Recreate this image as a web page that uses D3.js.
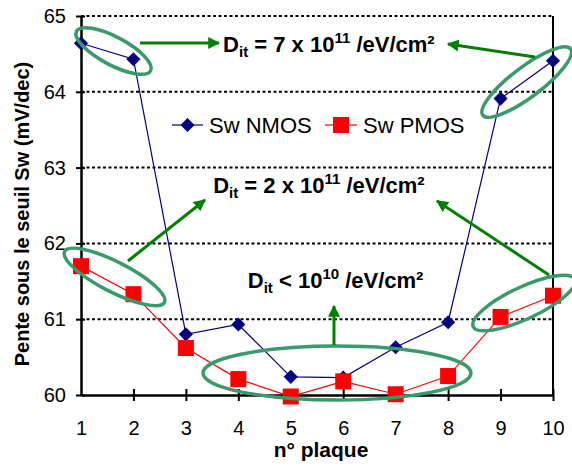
<!DOCTYPE html>
<html><head><meta charset="utf-8">
<script src="https://cdn.jsdelivr.net/npm/d3@7"></script>
<style>
body{margin:0;background:#fff;}
text{font-family:"Liberation Sans",Arial,sans-serif;}
</style></head>
<body><svg id="chart" width="572" height="466"></svg>
<script>
// ---- data ----
const plaques = [1,2,3,4,5,6,7,8,9,10];
const swNMOS = [64.64,64.43,60.80,60.93,60.24,60.23,60.63,60.96,63.91,64.41];
const swPMOS = [61.70,61.33,60.62,60.21,59.98,60.18,60.01,60.25,61.03,61.31];
const yTicks = [60,61,62,63,64,65];
const xTicks = [1,2,3,4,5,6,7,8,9,10];
const seriesNames = ["Sw NMOS","Sw PMOS"];
// annotation labels (main, sub, base, sup, tail)
const annoTexts = [
  {x:3.71, y:64.525, parts:["D","it"," = 7 x 10","11"," /eV/cm²"]},
  {x:3.52, y:62.66,  parts:["D","it"," = 2 x 10","11"," /eV/cm²"]},
  {x:4.18, y:61.41,  parts:["D","it"," < 10","10"," /eV/cm²"]}
];
// annotation arrows in data units [x1,y1,x2,y2]
const annoArrows = [
  [2.125,64.644,3.631,64.644],
  [9.657,64.459,7.998,64.631],
  [1.896,61.768,3.364,62.573],
  [9.924,61.583,7.788,62.559],
  [5.824,60.660,5.824,61.174]
];
// annotation ellipses: centre in data units
const annoEllipses = [
  {x:1.620, y:64.538, rx:42, ry:14, a:28},
  {x:9.499, y:64.129, rx:55, ry:15, a:-37},
  {x:1.639, y:61.557, rx:56, ry:15, a:27},
  {x:9.447, y:61.214, rx:56, ry:16, a:-25},
  {x:5.881, y:60.290, rx:134, ry:27, a:0}
];

const svg = d3.select("#chart");
const x = d3.scaleLinear().domain([1,10]).range([81,553]);
const y = d3.scaleLinear().domain([60,65]).range([395,16]);

// gridlines
svg.append("g").selectAll("line").data(yTicks.filter(d=>d>60)).join("line")
  .attr("x1",x(1)).attr("x2",x(10)).attr("y1",d=>y(d)).attr("y2",d=>y(d))
  .attr("stroke","#000").attr("stroke-width",2).attr("stroke-dasharray","3,2.5");

// right border
svg.append("line").attr("x1",x(10)).attr("x2",x(10)).attr("y1",y(65)).attr("y2",y(60))
  .attr("stroke","#000").attr("stroke-width",2);

// axes
const yAxis = svg.append("g").attr("transform",`translate(${x(1)},0)`)
  .call(d3.axisLeft(y).tickValues(yTicks).tickFormat(d3.format("d")).tickSizeInner(5).tickSizeOuter(0).tickPadding(10));
const xAxis = svg.append("g").attr("transform",`translate(0,${y(60)})`)
  .call(d3.axisBottom(x).tickValues(xTicks).tickSizeInner(6).tickSizeOuter(0).tickPadding(20));
[yAxis,xAxis].forEach(g=>{
  g.select(".domain").attr("stroke","#000").attr("stroke-width",2.5);
  g.selectAll(".tick line").attr("stroke","#000").attr("stroke-width",2);
  g.selectAll(".tick text").attr("font-size",20).attr("fill","#000")
   .attr("font-family","'Liberation Sans',Arial,sans-serif");
});
yAxis.selectAll(".tick line").attr("x1",4);
xAxis.selectAll(".tick line").attr("y1",-6);
xAxis.selectAll(".tick line").filter(d=>d===1).remove();

// axis titles
svg.append("text").attr("transform","translate(29,214) rotate(-90)")
  .attr("text-anchor","middle").attr("font-size",20).attr("font-weight","bold")
  .text("Pente sous le seuil Sw (mV/dec)");
svg.append("text").attr("x",321).attr("y",457).attr("text-anchor","middle")
  .attr("font-size",21).attr("font-weight","bold").text("n° plaque");

// series
const line = d3.line().x((d,i)=>x(plaques[i])).y(d=>y(d));
svg.append("path").datum(swNMOS).attr("d",line).attr("fill","none").attr("stroke","#000080").attr("stroke-width",1.2);
svg.append("path").datum(swPMOS).attr("d",line).attr("fill","none").attr("stroke","#ff0000").attr("stroke-width",1.2);
const diamond = d3.symbol().type(d3.symbolSquare).size(100);
svg.append("g").selectAll("path").data(swNMOS).join("path")
  .attr("d",diamond).attr("transform",(d,i)=>`translate(${x(plaques[i])},${y(d)}) rotate(45)`)
  .attr("fill","#000080");
svg.append("g").selectAll("rect").data(swPMOS).join("rect")
  .attr("x",(d,i)=>x(plaques[i])-8).attr("y",d=>y(d)-8).attr("width",16).attr("height",16)
  .attr("fill","#ff0000");

// legend
const lg = svg.append("g");
lg.append("line").attr("x1",172).attr("x2",203).attr("y1",125).attr("y2",125).attr("stroke","#000080").attr("stroke-width",1.2);
lg.append("path").attr("d",diamond).attr("transform","translate(187.5,125) rotate(45)").attr("fill","#000080");
lg.append("text").attr("x",209).attr("y",133).attr("font-size",22).text(seriesNames[0]);
lg.append("line").attr("x1",325).attr("x2",357).attr("y1",125).attr("y2",125).attr("stroke","#ff0000").attr("stroke-width",1.2);
lg.append("rect").attr("x",333).attr("y",117).attr("width",16).attr("height",16).attr("fill","#ff0000");
lg.append("text").attr("x",363).attr("y",133).attr("font-size",22).text(seriesNames[1]);

// ellipses
svg.append("g").selectAll("ellipse").data(annoEllipses).join("ellipse")
  .attr("cx",0).attr("cy",0).attr("rx",d=>d.rx).attr("ry",d=>d.ry)
  .attr("transform",d=>`translate(${x(d.x)},${y(d.y)}) rotate(${d.a})`)
  .attr("fill","none").attr("stroke","#3a9a6c").attr("stroke-width",3.5);

// arrows
const green = "#008000";
svg.append("defs").append("marker").attr("id","ah").attr("viewBox","0 0 10 10")
  .attr("refX",9).attr("refY",5).attr("markerWidth",4).attr("markerHeight",4)
  .attr("markerUnits","strokeWidth").attr("orient","auto")
  .append("path").attr("d","M0,0 L10,5 L0,10 Z").attr("fill",green);
svg.append("g").selectAll("line").data(annoArrows).join("line")
  .attr("x1",d=>x(d[0])).attr("y1",d=>y(d[1])).attr("x2",d=>x(d[2])).attr("y2",d=>y(d[3]))
  .attr("stroke",green).attr("stroke-width",3).attr("marker-end","url(#ah)");

// annotation texts
annoTexts.forEach(t=>{
  const tx = svg.append("text").attr("x",x(t.x)).attr("y",y(t.y)).attr("font-size",22).attr("font-weight","bold");
  tx.append("tspan").text(t.parts[0]);
  tx.append("tspan").attr("font-size",15).attr("dy",5).text(t.parts[1]);
  tx.append("tspan").attr("dy",-5).text(t.parts[2]);
  tx.append("tspan").attr("font-size",15).attr("dy",-9).text(t.parts[3]);
  tx.append("tspan").attr("dy",9).text(t.parts[4]);
});
</script></body></html>
